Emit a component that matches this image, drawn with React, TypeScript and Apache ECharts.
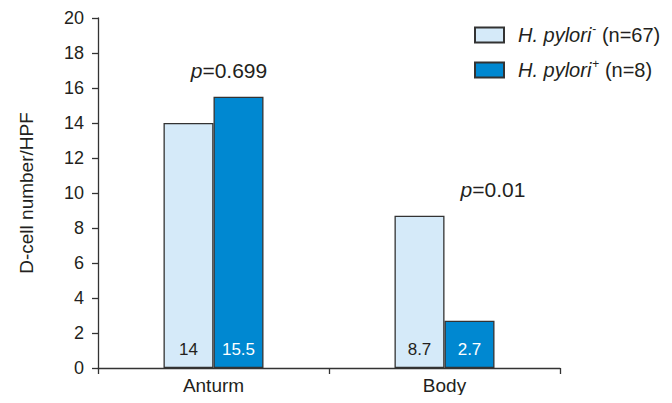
import React, { useEffect, useRef } from "react";
import * as echarts from "echarts";

const categories = ["Anturm", "Body"];
const negValues = [14, 8.7];
const posValues = [15.5, 2.7];
const negName = "H. pylori- (n=67)";
const posName = "H. pylori+ (n=8)";
const yTicks = { min: 0, max: 20, interval: 2 };
const pTexts = ["0.699", "0.01"];
const pX = [0.067, 1.21];
const pY = [17.0, 10.2];

const FONT = "Liberation Sans, Arial, sans-serif";
const TXT = "#231f20";
const LIGHT = "#d5eaf9";
const DARK = "#0088d1";
const EDGE = "#333333";

export default function App() {
  const ref = useRef<HTMLDivElement>(null);
  useEffect(() => {
    if (!ref.current) return;
    const chart = echarts.init(ref.current, undefined, { renderer: "svg" });
    chart.setOption({
      animation: false,
      textStyle: { fontFamily: FONT, color: TXT },
      grid: { left: 98, right: 112, top: 18, bottom: 35, containLabel: false },
      legend: {
        orient: "vertical",
        left: 474,
        top: 23,
        padding: 0,
        itemWidth: 29,
        itemHeight: 15,
        itemGap: 13,
        icon: "rect",
        data: [negName, posName],
        formatter: (name: string) => {
          if (name === negName) return "{it|H. pylori}{sup|-}{n| (n=67)}";
          return "{it|H. pylori}{sup|+}{n| (n=8)}";
        },
        textStyle: {
          fontFamily: FONT,
          color: TXT,
          fontSize: 20,
          padding: [0, 0, 0, 9],
          rich: {
            it: { fontStyle: "italic", fontSize: 20, fontFamily: FONT, color: TXT },
            sup: { fontSize: 12, fontFamily: FONT, color: TXT, padding: [0, 0, 12, 1] },
            n: { fontSize: 20, fontFamily: FONT, color: TXT },
          },
        },
      },
      xAxis: [
        {
          type: "category",
          data: categories,
          boundaryGap: true,
          axisLine: { lineStyle: { color: EDGE, width: 1.3 } },
          axisTick: { show: true, length: 6, lineStyle: { color: EDGE, width: 1.3 } },
          axisLabel: { fontSize: 19, color: TXT, margin: 8, fontFamily: FONT },
        },
        {
          type: "value",
          min: -0.5,
          max: 1.5,
          show: false,
        },
      ],
      yAxis: {
        type: "value",
        min: yTicks.min,
        max: yTicks.max,
        interval: yTicks.interval,
        name: "D-cell number/HPF",
        nameLocation: "middle",
        nameGap: 62,
        nameTextStyle: { fontSize: 19, color: TXT, fontFamily: FONT },
        splitLine: { show: false },
        axisLine: { show: true, onZero: false, lineStyle: { color: EDGE, width: 1.3 } },
        axisTick: { show: true, length: 6, lineStyle: { color: EDGE, width: 1.3 } },
        axisLabel: { fontSize: 18, color: TXT, margin: 14, fontFamily: FONT },
      },
      series: [
        {
          name: negName,
          type: "bar",
          data: negValues,
          barWidth: 50,
          barGap: "0%",
          itemStyle: { color: LIGHT, borderColor: EDGE, borderWidth: 1.3 },
          label: {
            show: true,
            position: "insideBottom",
            distance: 10,
            fontSize: 17,
            color: TXT,
            fontFamily: FONT,
          },
        },
        {
          name: posName,
          type: "bar",
          data: posValues,
          barWidth: 50,
          barGap: "0%",
          itemStyle: { color: DARK, borderColor: EDGE, borderWidth: 1.3 },
          label: {
            show: true,
            position: "insideBottom",
            distance: 10,
            fontSize: 17,
            color: "#ffffff",
            fontFamily: FONT,
          },
        },
        {
          type: "scatter",
          xAxisIndex: 1,
          symbolSize: 0,
          silent: true,
          itemStyle: { opacity: 1 },
          data: pTexts.map((t, i) => ({ value: [pX[i], pY[i]], name: t })),
          label: {
            show: true,
            position: "inside",
            opacity: 1,
            formatter: (p: any) => "{i|p}{r|=" + p.name + "}",
            rich: {
              i: { fontStyle: "italic", fontSize: 21, fontFamily: FONT, color: TXT },
              r: { fontSize: 21, fontFamily: FONT, color: TXT },
            },
          },
        },
      ],
    });
    return () => chart.dispose();
  }, []);
  return <div ref={ref} style={{ width: 672, height: 403, margin: -8 }} />;
}
